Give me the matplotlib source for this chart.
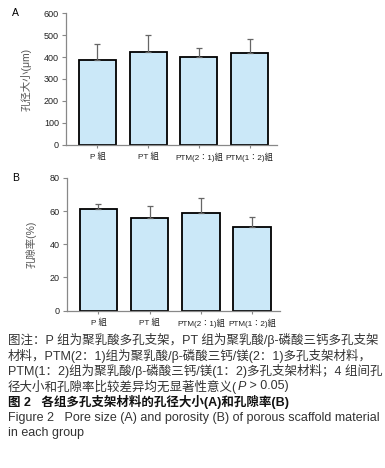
import numpy as np
import matplotlib.pyplot as plt

plt.rcParams['font.family'] = ['Liberation Sans', 'Noto Sans CJK SC']

groups = ['P 組', 'PT 組', 'PTM(2：1)組', 'PTM(1：2)組']
pore_size = [386, 422, 400, 418]
pore_err = [75, 80, 40, 62]
porosity = [61, 55.8, 58.6, 50.4]
porosity_err = [3, 7, 9, 6]

# each caption line is a list of (text, italic) pieces
caption = [
    [('图注：P 组为聚乳酸多孔支架，PT 组为聚乳酸/β-磷酸三钙多孔支架', False)],
    [('材料，PTM(2：1)组为聚乳酸/β-磷酸三钙/镁(2：1)多孔支架材料，', False)],
    [('PTM(1：2)组为聚乳酸/β-磷酸三钙/镁(1：2)多孔支架材料；4 组间孔', False)],
    [('径大小和孔隙率比较差异均无显著性意义(', False), ('P', True), (' > 0.05)', False)],
    [('图 2   各组多孔支架材料的孔径大小(A)和孔隙率(B)', False)],
    [('Figure 2   Pore size (A) and porosity (B) of porous scaffold material', False)],
    [('in each group', False)],
]
caption_bold = [False, False, False, False, True, False, False]

bar_color = '#cbe8f8'
fig = plt.figure(figsize=(3.85, 4.68), dpi=100)
renderer = fig.canvas.get_renderer()


def panel(rect, vals, errs, ymax, step, ylabel, letter):
    ax = fig.add_axes(rect)
    x = np.arange(len(vals))
    ax.bar(x, vals, width=0.73, color=bar_color, edgecolor='black', linewidth=1.3, zorder=2)
    ax.errorbar(x, vals, yerr=[np.zeros(len(errs)), errs], fmt='none', ecolor='#666666',
                elinewidth=0.9, capsize=2.2, capthick=0.9, zorder=3)
    ax.set_xlim(-0.62, 3.54)
    ax.set_ylim(0, ymax)
    ax.set_yticks(np.arange(0, ymax + 1, step))
    ax.set_xticks(x)
    # JP face centres the full-width colon like the original
    ax.set_xticklabels(groups, fontsize=5.9, color='#222222',
                       family=['Liberation Sans', 'Noto Sans CJK JP'])
    ax.tick_params(axis='y', labelsize=6.5, length=3, width=0.8, color='#888888', labelcolor='#222222', pad=2)
    ax.tick_params(axis='x', length=2.5, width=0.8, color='#888888', pad=3)
    for s in ['top', 'right']:
        ax.spines[s].set_visible(False)
    for s in ['left', 'bottom']:
        ax.spines[s].set_color('#888888')
        ax.spines[s].set_linewidth(0.9)
    ax.set_ylabel(ylabel, fontsize=7.5, color='#555555', labelpad=9)
    fig.text(12 / 385, rect[1] + rect[3], letter, fontsize=7.5, va='center', ha='left')
    return ax


panel([0.1714, 0.6902, 0.548, 0.282], pore_size, pore_err, 600, 100, '孔径大小(μm)', 'A')
panel([0.1730, 0.3361, 0.554, 0.284], porosity, porosity_err, 80, 20, '孔隙率(%)', 'B')

y0 = 340
for i, pieces in enumerate(caption):
    xpx = 8
    bold = caption_bold[i]
    for txt, ital in pieces:
        t = fig.text(xpx / 385, 1 - (y0 + i * 15.5) / 468, txt, fontsize=9.0,
                     color='#111111' if bold else '#333333',
                     fontweight='bold' if bold else 'normal',
                     fontstyle='italic' if ital else 'normal', va='center', ha='left')
        xpx += t.get_window_extent(renderer).width

fig.savefig('out.png', dpi=100)
